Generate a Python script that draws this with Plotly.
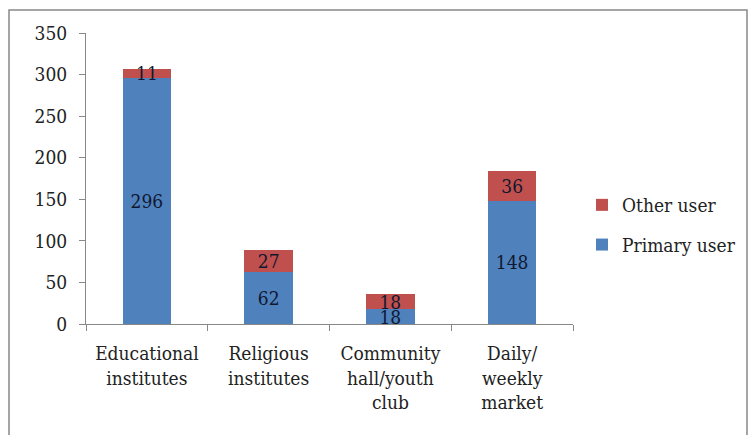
import plotly.graph_objects as go

categories = ["Educational<br>institutes", "Religious<br>institutes",
              "Community<br>hall/youth<br>club", "Daily/<br>weekly<br>market"]
primary_user = [296, 62, 18, 148]
other_user = [11, 27, 18, 36]
y_ticks = [0, 50, 100, 150, 200, 250, 300, 350]

FONT = "DejaVu Serif Condensed, DejaVu Serif"
L, R, T, B = 86, 176, 33, 111
W, H = 749, 435
pw, ph = W - L - R, H - T - B
FS = 19

fig = go.Figure()
fig.add_trace(go.Bar(x=categories, y=primary_user, name="Primary user",
                     legendgroup="p", legendrank=2,
                     marker=dict(color="#4F81BD", line=dict(width=0)),
                     text=primary_user, textposition="inside", textangle=0,
                     insidetextanchor="middle", constraintext="none",
                     textfont=dict(family=FONT, size=FS, color="#101830")))
fig.add_trace(go.Bar(x=categories, y=other_user, name="Other user",
                     legendgroup="o", legendrank=1,
                     marker=dict(color="#C0504D", line=dict(width=0)),
                     text=other_user, textposition="inside", textangle=0,
                     insidetextanchor="middle", constraintext="none",
                     textfont=dict(family=FONT, size=FS, color="#101830")))

fig.update_layout(
    width=W, height=H, barmode="stack", bargap=0.6,
    margin=dict(l=L, r=R, t=T, b=B, autoexpand=False),
    paper_bgcolor="white", plot_bgcolor="white",
    font=dict(family=FONT, size=FS, color="#222"),
    uniformtext=dict(minsize=FS, mode="show"),
    legend=dict(traceorder="grouped", x=(582 - L) / pw, y=(324 - 225) / ph,
                xanchor="left", yanchor="middle",
                font=dict(family=FONT, size=FS, color="#222"),
                itemwidth=30, tracegroupgap=12, bgcolor="rgba(0,0,0,0)"),
    xaxis=dict(showline=True, linecolor="#888", linewidth=1,
               ticks="outside", tickson="boundaries", ticklen=6, tickcolor="#888",
               ticklabelstandoff=12,
               tickfont=dict(family=FONT, size=FS, color="#222"),
               showgrid=False, fixedrange=True),
    yaxis=dict(range=[0, 350], tickvals=y_ticks, showline=True, linecolor="#888",
               linewidth=1, ticks="outside", ticklen=6, tickcolor="#888",
               ticklabelstandoff=8,
               tickfont=dict(family=FONT, size=FS, color="#222"),
               showgrid=False, zeroline=False, fixedrange=True),
    shapes=[dict(type="rect", xref="paper", yref="paper",
                 x0=(9 - L) / pw, x1=(747 - L) / pw,
                 y0=(324 - 445) / ph, y1=(324 - 10) / ph,
                 line=dict(color="#888", width=1.5))],
)

fig.write_html("out.html")
